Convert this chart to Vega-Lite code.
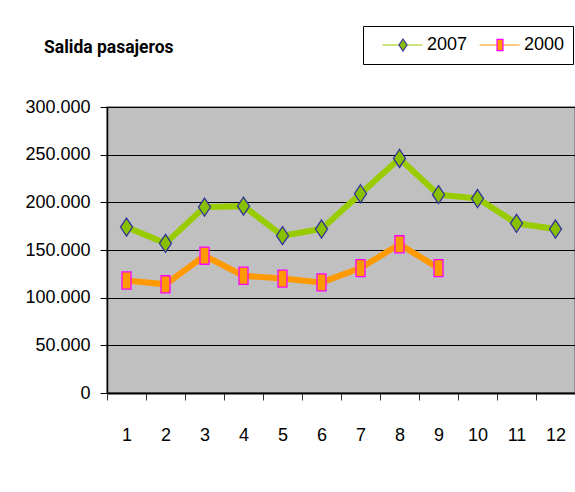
{
  "$schema": "https://vega.github.io/schema/vega-lite/v6.json",
  "width": 468,
  "height": 286,
  "autosize": {"type": "none"},
  "padding": {"left": 107, "top": 107, "right": 0, "bottom": 99},
  "background": "white",
  "title": {
    "text": "Salida pasajeros",
    "anchor": "start",
    "frame": "group",
    "font": "Roboto, Liberation Sans, sans-serif",
    "fontSize": 17.5,
    "fontWeight": "bold",
    "color": "black",
    "baseline": "alphabetic",
    "offset": 0,
    "dx": -63,
    "dy": 45
  },
  "data": {
    "values": [
      {"mes": 1, "serie": "2007", "valor": 174000},
      {"mes": 2, "serie": "2007", "valor": 157000},
      {"mes": 3, "serie": "2007", "valor": 195000},
      {"mes": 4, "serie": "2007", "valor": 196000},
      {"mes": 5, "serie": "2007", "valor": 165000},
      {"mes": 6, "serie": "2007", "valor": 172000},
      {"mes": 7, "serie": "2007", "valor": 209000},
      {"mes": 8, "serie": "2007", "valor": 246000},
      {"mes": 9, "serie": "2007", "valor": 208000},
      {"mes": 10, "serie": "2007", "valor": 204000},
      {"mes": 11, "serie": "2007", "valor": 178000},
      {"mes": 12, "serie": "2007", "valor": 172000},
      {"mes": 1, "serie": "2000", "valor": 118000},
      {"mes": 2, "serie": "2000", "valor": 114000},
      {"mes": 3, "serie": "2000", "valor": 144000},
      {"mes": 4, "serie": "2000", "valor": 123000},
      {"mes": 5, "serie": "2000", "valor": 120000},
      {"mes": 6, "serie": "2000", "valor": 116000},
      {"mes": 7, "serie": "2000", "valor": 131000},
      {"mes": 8, "serie": "2000", "valor": 156000},
      {"mes": 9, "serie": "2000", "valor": 131000}
    ]
  },
  "encoding": {
    "x": {
      "field": "mes",
      "type": "ordinal",
      "scale": {"type": "band", "paddingInner": 0, "paddingOuter": 0},
      "axis": {
        "title": null,
        "labelAngle": 0,
        "tickBand": "extent",
        "tickSize": 7,
        "tickColor": "#333333",
        "tickWidth": 1,
        "domainColor": "black",
        "domainWidth": 2,
        "labelPadding": 26,
        "grid": false
      }
    },
    "y": {
      "field": "valor",
      "type": "quantitative",
      "scale": {"domain": [0, 300000], "nice": false, "zero": true},
      "axis": {
        "title": null,
        "values": [0, 50000, 100000, 150000, 200000, 250000, 300000],
        "format": ",d",
        "tickSize": 7,
        "tickColor": "black",
        "tickWidth": 1,
        "labelPadding": 10,
        "grid": true,
        "gridColor": "black",
        "gridWidth": 1,
        "gridOpacity": 1,
        "domainColor": "black",
        "domainWidth": 1.5
      }
    }
  },
  "layer": [
    {
      "mark": {"type": "line", "strokeWidth": 6, "strokeJoin": "miter"},
      "encoding": {
        "color": {
          "field": "serie",
          "type": "nominal",
          "sort": ["2007", "2000"],
          "scale": {"range": ["#99cc00", "#ff9900"]},
          "legend": {
            "orient": "none",
            "legendX": 256,
            "legendY": -81,
            "direction": "horizontal",
            "title": null,
            "strokeColor": "black",
            "fillColor": "white",
            "padding": 8,
            "clipHeight": 22,
            "symbolType": "stroke",
            "symbolSize": 1600,
            "symbolStrokeWidth": 1,
            "symbolOffset": 11,
            "labelOffset": 4,
            "columnPadding": 0,
            "labelFont": "Liberation Sans, sans-serif",
            "labelFontSize": 18,
            "labelOpacity": 0,
            "zindex": 1
          }
        }
      }
    },
    {
      "mark": {"type": "point", "filled": true, "size": 324, "opacity": 1, "strokeWidth": 1.3},
      "encoding": {
        "shape": {
          "field": "serie",
          "type": "nominal",
          "scale": {"domain": ["2007", "2000"], "range": ["M0,-1L0.67,0L0,1L-0.67,0Z", "M-0.5,-0.95H0.5V0.95H-0.5Z"]},
          "legend": {
            "orient": "none",
            "legendX": 256,
            "legendY": -81,
            "direction": "horizontal",
            "title": null,
            "padding": 8,
            "clipHeight": 22,
            "symbolSize": 144,
            "symbolStrokeWidth": 1.2,
            "symbolOffset": 23,
            "labelOffset": 15,
            "columnPadding": 0,
            "labelFont": "Liberation Sans, sans-serif",
            "labelFontSize": 18,
            "labelColor": "black",
            "zindex": 2
          }
        },
        "fill": {
          "field": "serie",
          "type": "nominal",
          "scale": {"domain": ["2007", "2000"], "range": ["#88c000", "#ff9900"]}
        },
        "stroke": {
          "field": "serie",
          "type": "nominal",
          "scale": {"domain": ["2007", "2000"], "range": ["#333399", "#ff00ff"]}
        }
      }
    }
  ],
  "config": {
    "locale": {"number": {"decimal": ",", "thousands": ".", "grouping": [3], "currency": ["", " €"]}},
    "view": {"fill": "#c0c0c0", "stroke": "#808080", "strokeWidth": 1.5},
    "axis": {
      "labelFont": "Liberation Sans, sans-serif",
      "labelFontSize": 18,
      "labelColor": "black"
    }
  }
}
